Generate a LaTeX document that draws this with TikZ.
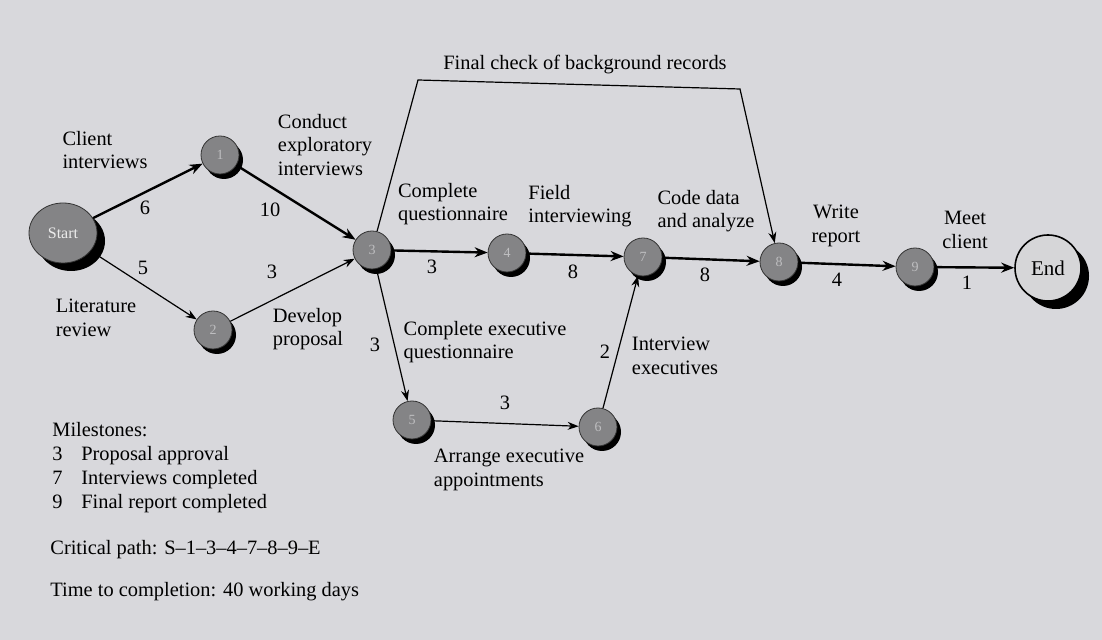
\documentclass[tikz,border=0pt]{standalone}
\usepackage{fontspec}
\setmainfont{Liberation Serif}
\usetikzlibrary{arrows.meta, shadows, shapes.geometric}
\definecolor{pageBg}{RGB}{216, 216, 220}
\definecolor{eventFill}{RGB}{132, 132, 134}
\definecolor{endFill}{RGB}{214, 214, 216}
\definecolor{eventNum}{RGB}{190, 190, 192}

\begin{document}
\begin{tikzpicture}[x=0.5pt, y=-0.5pt, >=Stealth,
  font=\fontsize{10.2}{11.8}\selectfont,
  event/.style={circle, draw=black!80, fill=eventFill, minimum size=19pt,
    inner sep=0pt, text=eventNum, font=\fontsize{7}{8}\selectfont,
    general shadow={fill=black, shadow xshift=2pt, shadow yshift=-2.5pt}},
  startEvent/.style={ellipse, draw=black!80, fill=eventFill, minimum width=34pt,
    minimum height=30pt, inner sep=0pt, text=white!85!gray,
    font=\fontsize{8}{9}\selectfont,
    general shadow={fill=black, shadow xshift=4pt, shadow yshift=-4pt}},
  endEvent/.style={circle, draw=black, thick, fill=endFill, minimum size=33pt,
    inner sep=0pt, font=\fontsize{10.5}{12}\selectfont,
    general shadow={fill=black, shadow xshift=4pt, shadow yshift=-4pt}},
  lbl/.style={align=left, inner sep=0pt},
  num/.style={inner sep=0pt},
  critEdge/.style={line width=1.2pt, -{Stealth[length=6.5pt, width=5pt]}},
  actEdge/.style={line width=0.6pt, -{Stealth[length=5.5pt, width=4pt]}}]

  \fill[pageBg] (0,0) rectangle (1102,640);
  \useasboundingbox (0,0) rectangle (1102,640);

  % events
  \node[startEvent] (S) at (63,233) {Start};
  \node[event] (n1) at (220,155) {1};
  \node[event] (n2) at (213,330) {2};
  \node[event] (n3) at (372,250) {3};
  \node[event] (n4) at (507,253) {4};
  \node[event] (n5) at (412,420) {5};
  \node[event] (n6) at (598,427) {6};
  \node[event] (n7) at (643,257) {7};
  \node[event] (n8) at (779,262) {8};
  \node[event] (n9) at (915,267) {9};
  \node[endEvent] (E) at (1048,268) {End};
  \coordinate (checkL) at (418,80);
  \coordinate (checkR) at (740,89);

  % activities
  \draw[critEdge] (S) -- (n1);
  \draw[actEdge] (S) -- (n2);
  \draw[critEdge] (n1) -- (n3);
  \draw[actEdge] (n2) -- (n3);
  \draw[critEdge] (n3) -- (n4);
  \draw[actEdge] (n3) -- (n5);
  \draw[critEdge] (n4) -- (n7);
  \draw[actEdge] (n5) -- (n6);
  \draw[actEdge] (n6) -- (n7);
  \draw[critEdge] (n7) -- (n8);
  \draw[actEdge] (n3) -- (checkL) -- (checkR) -- (n8);
  \draw[critEdge] (n8) -- (n9);
  \draw[critEdge] (n9) -- (E);

  % activity labels and times
  \node[lbl] (tClient) at (105,150) {Client\\interviews};
  \node[num] (d6) at (145,208) {6};
  \node[lbl] (tLit) at (96,318) {Literature\\review};
  \node[num] (d5) at (143,268) {5};
  \node[lbl] (tExpl) at (325,145) {Conduct\\exploratory\\interviews};
  \node[num] (d10) at (270,210) {10};
  \node[lbl] (tProp) at (308,329) {Develop\\proposal};
  \node[num] (d3a) at (272,272) {3};
  \node[lbl] (tQuest) at (453,204) {Complete\\questionnaire};
  \node[num] (d3b) at (432,267) {3};
  \node[lbl] (tField) at (580,206) {Field\\interviewing};
  \node[num] (d8a) at (573,272) {8};
  \node[lbl] (tCode) at (706,211) {Code data\\and analyze};
  \node[num] (d8b) at (705,275) {8};
  \node[lbl] (tExecQ) at (485,342) {Complete executive\\questionnaire};
  \node[num] (d3c) at (375,345) {3};
  \node[lbl] (tArr) at (509,470) {Arrange executive\\appointments};
  \node[num] (d3d) at (505,403) {3};
  \node[lbl] (tIntEx) at (675,356) {Interview\\executives};
  \node[num] (d2) at (605,352) {2};
  \node[lbl] (tCheck) at (585,65) {Final check of background records};
  \node[lbl, align=center] (tWrite) at (836,226) {Write\\report};
  \node[num] (d4) at (837,280) {4};
  \node[lbl, align=center] (tMeet) at (965,230) {Meet\\client};
  \node[num] (d1) at (967,283) {1};

  % notes
  \node[lbl, anchor=north west, font=\fontsize{10.2}{12}\selectfont] (tMile) at (52,422)
    {Milestones:\\3\enspace\, Proposal approval\\7\enspace\, Interviews completed\\9\enspace\, Final report completed};
  \node[lbl, anchor=west] (tCrit) at (50,550) {Critical path: S--1--3--4--7--8--9--E};
  \node[lbl, anchor=west] (tTime) at (50,592) {Time to completion: 40 working days};
\end{tikzpicture}
\end{document}
